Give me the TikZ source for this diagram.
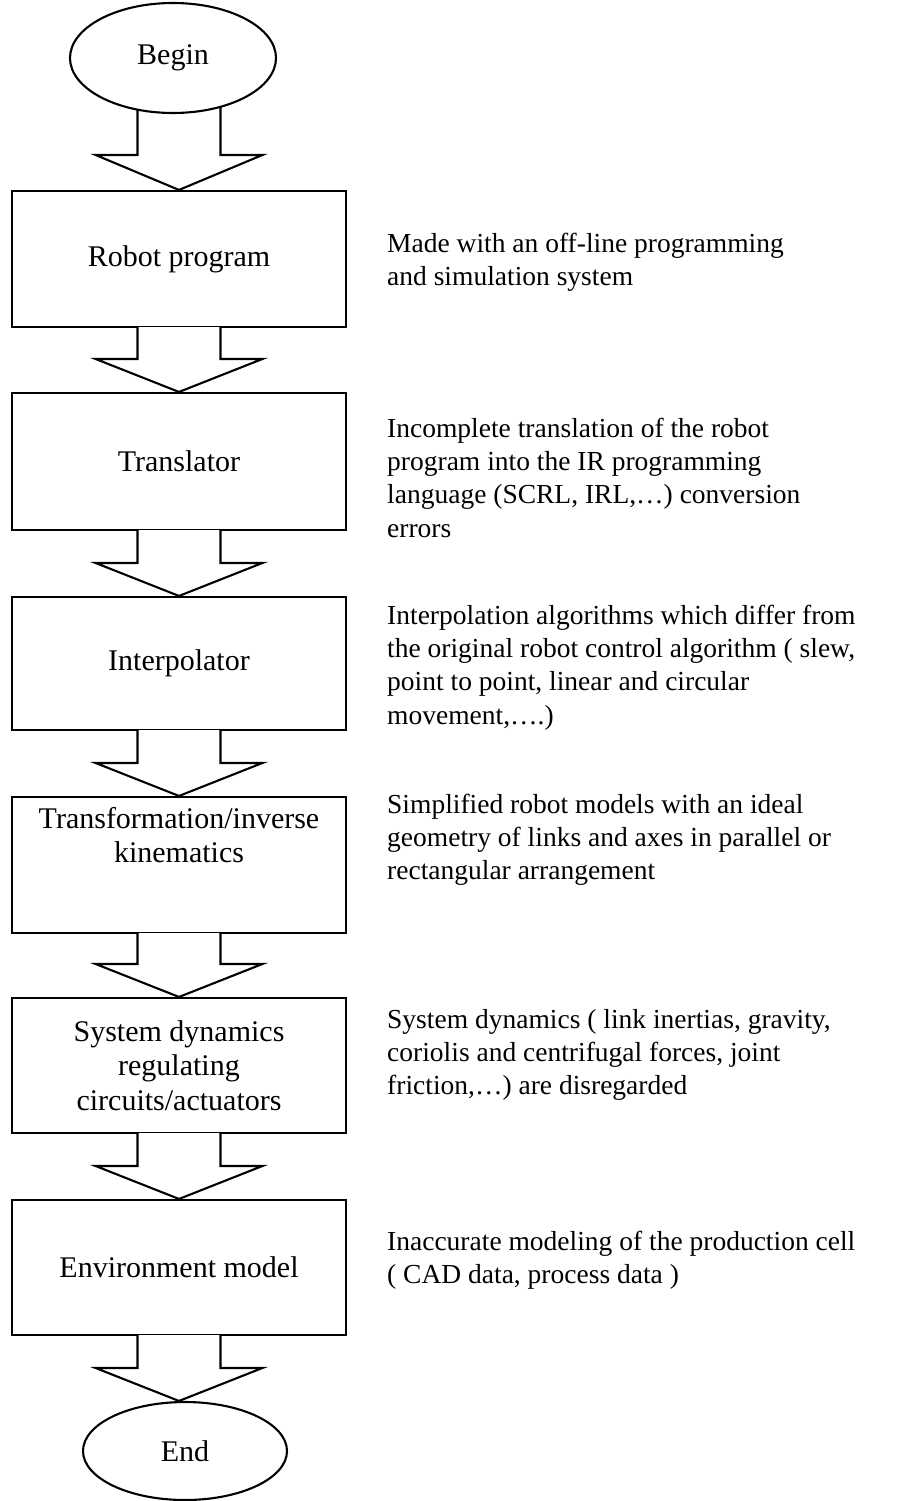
\documentclass[tikz,border=0pt]{standalone}
\usepackage{fontspec}
\setmainfont{Liberation Serif}
\usetikzlibrary{calc,positioning,backgrounds,shapes.geometric}

\tikzset{
  box/.style={draw, line width=2.1pt, minimum width=334pt, minimum height=136pt,
    align=center, inner sep=0pt, font=\fontsize{30}{34.5}\selectfont},
  oval/.style={draw, ellipse, line width=2.1pt, fill=white, inner sep=0pt,
    font=\fontsize{30}{34.5}\selectfont},
  blockarrow/.style={draw, fill=white, line width=2.1pt},
  note/.style={anchor=north west, align=left, inner sep=0pt,
    font=\fontsize{27.5}{33.2}\selectfont}
}

\begin{document}
\begin{tikzpicture}[x=1pt,y=-1pt]
\useasboundingbox (0,0) rectangle (913,1501);

% flow
\node[oval, minimum width=206pt, minimum height=110pt] (start) at (173,58) {Begin};
\node[box] (rp) at (179,259) {Robot program};
\node[box, minimum height=137pt] (tr) at (179,461.5) {Translator};
\node[box, minimum height=133pt] (ip) at (179,663.5) {Interpolator};
\node[box, text depth=60pt] (tf) at (179,865) {Transformation/inverse\\kinematics};
\node[box, minimum height=135pt] (sd) at (179,1065.5) {System dynamics\\regulating\\circuits/actuators};
\node[box, minimum height=135pt] (em) at (179,1267.5) {Environment model};
\node[oval, minimum width=204pt, minimum height=98pt] (stop) at (185,1451) {End};

% error sources
\node[note] (rpnote) at (387,233) {Made with an off-line programming\\and simulation system};
\node[note] (trnote) at (387,418) {Incomplete translation of the robot\\program into the IR programming\\language (SCRL, IRL,…) conversion\\errors};
\node[note] (ipnote) at (387,605) {Interpolation algorithms which differ from\\the original robot control algorithm ( slew,\\point to point, linear and circular\\movement,….)};
\node[note] (tfnote) at (387,794) {Simplified robot models with an ideal\\geometry of links and axes in parallel or\\rectangular arrangement};
\node[note] (sdnote) at (387,1009) {System dynamics ( link inertias, gravity,\\coriolis and centrifugal forces, joint\\friction,…) are disregarded};
\node[note] (emnote) at (387,1231) {Inaccurate modeling of the production cell\\( CAD data, process data )};

% arrows
\begin{pgfonlayer}{background}
\draw[blockarrow] ($(start.center -| rp.north)+(-41.5,0)$) -- ($(rp.north)+(-41.5,-35)$) -- ($(rp.north)+(-83.5,-35)$) -- (rp.north) -- ($(rp.north)+(83.5,-35)$) -- ($(rp.north)+(41.5,-35)$) -- ($(start.center -| rp.north)+(41.5,0)$);
\end{pgfonlayer}
\draw[blockarrow] ($(rp.south)+(-41.5,-1)$) -- ($(tr.north)+(-41.5,-33)$) -- ($(tr.north)+(-83.5,-33)$) -- (tr.north) -- ($(tr.north)+(83.5,-33)$) -- ($(tr.north)+(41.5,-33)$) -- ($(rp.south)+(41.5,-1)$);
\draw[blockarrow] ($(tr.south)+(-41.5,-1)$) -- ($(ip.north)+(-41.5,-33)$) -- ($(ip.north)+(-83.5,-33)$) -- (ip.north) -- ($(ip.north)+(83.5,-33)$) -- ($(ip.north)+(41.5,-33)$) -- ($(tr.south)+(41.5,-1)$);
\draw[blockarrow] ($(ip.south)+(-41.5,-1)$) -- ($(tf.north)+(-41.5,-33)$) -- ($(tf.north)+(-83.5,-33)$) -- (tf.north) -- ($(tf.north)+(83.5,-33)$) -- ($(tf.north)+(41.5,-33)$) -- ($(ip.south)+(41.5,-1)$);
\draw[blockarrow] ($(tf.south)+(-41.5,-1)$) -- ($(sd.north)+(-41.5,-33)$) -- ($(sd.north)+(-83.5,-33)$) -- (sd.north) -- ($(sd.north)+(83.5,-33)$) -- ($(sd.north)+(41.5,-33)$) -- ($(tf.south)+(41.5,-1)$);
\draw[blockarrow] ($(sd.south)+(-41.5,-1)$) -- ($(em.north)+(-41.5,-33)$) -- ($(em.north)+(-83.5,-33)$) -- (em.north) -- ($(em.north)+(83.5,-33)$) -- ($(em.north)+(41.5,-33)$) -- ($(sd.south)+(41.5,-1)$);
\draw[blockarrow] ($(em.south)+(-41.5,-1)$) -- ($(em.south |- stop.north)+(-41.5,-33)$) -- ($(em.south |- stop.north)+(-83.5,-33)$) -- (em.south |- stop.north) -- ($(em.south |- stop.north)+(83.5,-33)$) -- ($(em.south |- stop.north)+(41.5,-33)$) -- ($(em.south)+(41.5,-1)$);
\end{tikzpicture}
\end{document}
